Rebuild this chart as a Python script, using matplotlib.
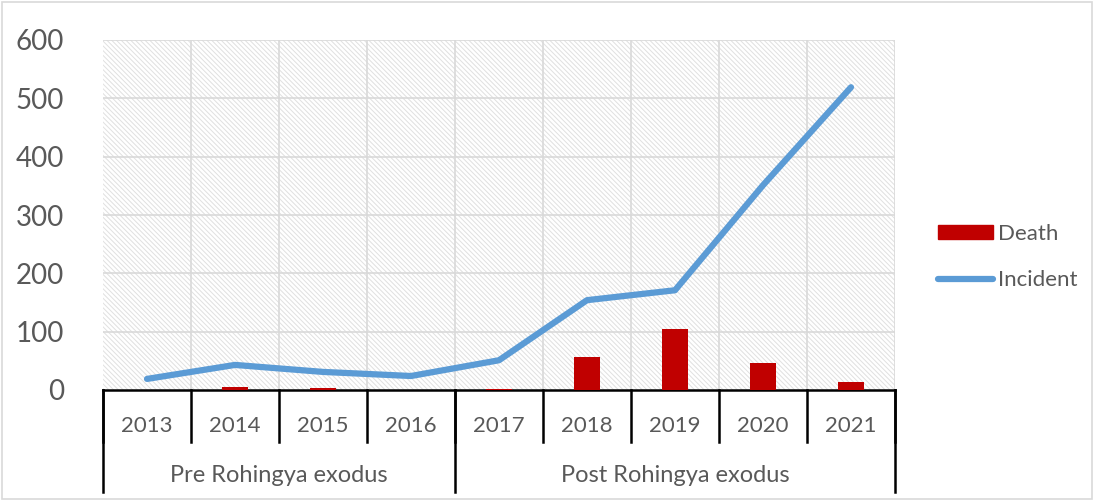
import numpy as np
import matplotlib.pyplot as plt
from matplotlib.patches import Rectangle
from matplotlib.lines import Line2D
import matplotlib.transforms as mtransforms

plt.rcParams['font.family'] = ['Lato', 'DejaVu Sans']
plt.rcParams['hatch.linewidth'] = 0.7

years = ["2013", "2014", "2015", "2016", "2017", "2018", "2019", "2020", "2021"]
groups = ["Pre Rohingya exodus", "Post Rohingya exodus"]
group_sizes = [4, 5]
death = [0, 6, 4, 0, 1, 57, 104, 46, 14]
incident = [19, 43, 31, 24, 51, 154, 171, 351, 519]
yticks = [0, 100, 200, 300, 400, 500, 600]

TXT = "#595959"
GRID = "#d9d9d9"

fig = plt.figure(figsize=(10.94, 5.01), dpi=100)
ax = fig.add_axes([103 / 1094, 1 - 390 / 501, (895 - 103) / 1094, (390 - 40) / 501])

x = np.arange(len(years))
ax.set_xlim(-0.5, len(years) - 0.5)
ax.set_ylim(0, 600)

# hatched plot background
bg = Rectangle((0, 0), 1, 1, transform=ax.transAxes, facecolor="white",
               edgecolor="#e0e0e0", hatch="\\" * 7, linewidth=0, zorder=0)
ax.add_patch(bg)

for yv in yticks[1:]:
    ax.axhline(yv, color=GRID, lw=1.2, zorder=1)
for b in np.arange(0.5, len(years), 1):
    ax.axvline(b, color=GRID, lw=1.2, zorder=1)

bars = ax.bar(x, death, width=0.3, color="#c00000", zorder=3)
line, = ax.plot(x, incident, color="#5b9bd5", lw=4.5, solid_capstyle="round",
                solid_joinstyle="round", zorder=4)

for s in ["top", "right", "left"]:
    ax.spines[s].set_visible(False)
ax.spines["bottom"].set_color("black")
ax.spines["bottom"].set_linewidth(1.8)
ax.set_xticks([])
ax.set_yticks(yticks)
ax.tick_params(axis="y", length=0, labelsize=20, labelcolor=TXT, pad=28)

# multi-level category axis
trans = mtransforms.blended_transform_factory(ax.transData, fig.transFigure)
def fy(py):
    return 1 - py / 501

for b in np.arange(-0.5, len(years), 1):
    ax.plot([b, b], [fy(390), fy(442)], color="black", lw=1.8,
            transform=trans, clip_on=False)
for i, yr in enumerate(years):
    ax.text(i, fy(426), yr, transform=trans, ha="center", va="center",
            fontsize=16, color=TXT)
start = -0.5
for g, n in zip(groups, group_sizes):
    ax.plot([start, start], [fy(390), fy(492)], color="black", lw=1.8,
            transform=trans, clip_on=False)
    ax.text(start + n / 2, fy(476), g, transform=trans, ha="center",
            va="center", fontsize=17, color=TXT)
    start += n
ax.plot([start, start], [fy(390), fy(492)], color="black", lw=1.8,
        transform=trans, clip_on=False)

handles = [Rectangle((0, 0), 1, 1, color="#c00000"),
           Line2D([], [], color="#5b9bd5", lw=4.5, solid_capstyle="round")]
leg = fig.legend(handles, ["Death", "Incident"], loc="center left",
                 bbox_to_anchor=(922 / 1094, 1 - 257 / 501),
                 frameon=False, fontsize=16, handlelength=2.5, handleheight=0.55,
                 handletextpad=0.2, labelspacing=1.2, borderaxespad=0.3)
for t in leg.get_texts():
    t.set_color(TXT)

# outer frame
fig.patches.append(Rectangle((0.002, 0.003), 0.996, 0.994, transform=fig.transFigure,
                             fill=False, edgecolor="#d9d9d9", lw=1.2))

fig.savefig("out.png", dpi=100)
